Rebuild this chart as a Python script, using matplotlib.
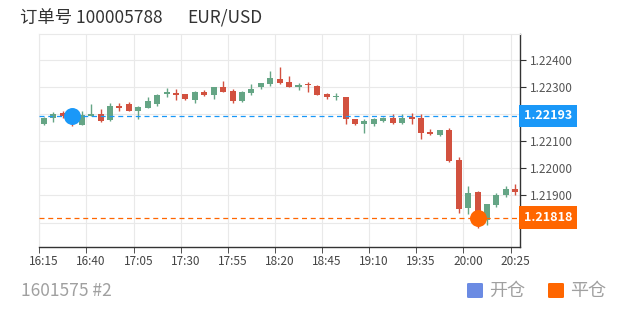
import numpy as np
import matplotlib.pyplot as plt
import matplotlib.transforms as mtransforms
from matplotlib.patches import FancyBboxPatch

plt.rcParams['font.family'] = ['Noto Sans CJK SC', 'DejaVu Sans']

# 5-minute candles, 16:15 .. 20:25
times = ['16:15', '16:40', '17:05', '17:30', '17:55', '18:20', '18:45',
         '19:10', '19:35', '20:00', '20:25']
opens = [1.22164, 1.22187, 1.22203, 1.22195, 1.22161, 1.22193, 1.22199, 1.22177, 1.22230, 1.22236,
         1.22211, 1.22224, 1.22236, 1.22273, 1.22279, 1.22273, 1.22252, 1.22282, 1.22269, 1.22300,
         1.22285, 1.22248, 1.22276, 1.22298, 1.22310, 1.22329, 1.22319, 1.22298, 1.22310, 1.22304,
         1.22273, 1.22263, 1.22261, 1.22180, 1.22162, 1.22162, 1.22174, 1.22184, 1.22168, 1.22189,
         1.22187, 1.22135, 1.22122, 1.22141, 1.22030, 1.21853, 1.21911, 1.21810, 1.21866, 1.21903,
         1.21925]
highs = [1.22190, 1.22206, 1.22210, 1.22206, 1.22211, 1.22236, 1.22220, 1.22240, 1.22240, 1.22243,
         1.22230, 1.22262, 1.22273, 1.22295, 1.22294, 1.22275, 1.22284, 1.22288, 1.22299, 1.22320,
         1.22294, 1.22285, 1.22310, 1.22316, 1.22359, 1.22372, 1.22341, 1.22316, 1.22319, 1.22306,
         1.22277, 1.22277, 1.22262, 1.22182, 1.22180, 1.22184, 1.22190, 1.22202, 1.22199, 1.22205,
         1.22199, 1.22146, 1.22143, 1.22147, 1.22040, 1.21936, 1.21915, 1.21869, 1.21909, 1.21933,
         1.21943]
lows = [1.22160, 1.22169, 1.22184, 1.22156, 1.22160, 1.22192, 1.22170, 1.22173, 1.22211, 1.22210,
        1.22180, 1.22221, 1.22230, 1.22263, 1.22252, 1.22253, 1.22242, 1.22267, 1.22254, 1.22283,
        1.22242, 1.22244, 1.22269, 1.22294, 1.22304, 1.22310, 1.22298, 1.22288, 1.22282, 1.22269,
        1.22254, 1.22252, 1.22162, 1.22160, 1.22131, 1.22157, 1.22170, 1.22162, 1.22162, 1.22162,
        1.22109, 1.22123, 1.22119, 1.22022, 1.21835, 1.21832, 1.21779, 1.21792, 1.21859, 1.21894,
        1.21903]
closes = [1.22184, 1.22199, 1.22192, 1.22180, 1.22195, 1.22199, 1.22174, 1.22230, 1.22224, 1.22211,
          1.22226, 1.22248, 1.22269, 1.22283, 1.22269, 1.22254, 1.22282, 1.22270, 1.22298, 1.22283,
          1.22248, 1.22282, 1.22294, 1.22314, 1.22332, 1.22314, 1.22298, 1.22307, 1.22306, 1.22270,
          1.22261, 1.22267, 1.22180, 1.22162, 1.22174, 1.22180, 1.22187, 1.22168, 1.22184, 1.22180,
          1.22131, 1.22125, 1.22141, 1.22026, 1.21850, 1.21909, 1.21798, 1.21868, 1.21903, 1.21924,
          1.21911]

open_idx, open_price = 3, 1.22193
close_idx, close_price = 46, 1.21818

up_col = '#65a585'
down_col = '#d2513f'
blue = '#1a98f8'
orange = '#ff6600'

o = np.array(opens)
h = np.array(highs)
l = np.array(lows)
c = np.array(closes)
x = np.arange(len(o))
cols = np.where(c >= o, up_col, down_col)

fig = plt.figure(figsize=(6.2, 3.1), dpi=100)
ax = fig.add_axes([39.3 / 620, 63 / 310, (520 - 39.3) / 620, 213 / 310])

# grid
for yv in np.arange(1.218, 1.2245, 0.001):
    ax.axhline(yv, color='#e9e9e9', lw=0.8, zorder=0)
for xv in np.arange(-0.5, 51, 5):
    ax.axvline(xv, color='#e9e9e9', lw=0.8, zorder=0)

# candles
ax.vlines(x, l, h, colors=cols, lw=1, zorder=2)
body = np.maximum(np.abs(c - o), 0.000012)
ax.bar(x, body, bottom=np.minimum(o, c), width=0.64, color=cols, zorder=3)

# open / close lines and markers
ax.axhline(open_price, color=blue, lw=0.9, ls=(0, (4, 3)), zorder=4)
ax.axhline(close_price, color=orange, lw=0.9, ls=(0, (4, 3)), zorder=4)
ax.scatter([open_idx], [open_price], s=125, color=blue, zorder=5)
ax.scatter([close_idx], [close_price], s=125, color=orange, zorder=5)

ax.set_xlim(-0.5, 50.5)
ax.set_ylim(1.2171, 1.22495)

# axes styling
for s in ['left', 'top']:
    ax.spines[s].set_color('#e9e9e9')
    ax.spines[s].set_linewidth(0.8)
for s in ['right', 'bottom']:
    ax.spines[s].set_color('#333333')
    ax.spines[s].set_linewidth(1)

ax.yaxis.tick_right()
yt = np.round(np.arange(1.218, 1.2245, 0.001), 3)
ax.set_yticks(yt)
ax.set_yticklabels(['' if v in (1.218, 1.222) else '%.5f' % v for v in yt])
ax.tick_params(axis='y', length=4, color='#333333', labelsize=8.5, labelcolor='#555555', pad=3)

ax.set_xticks(x[::5])
ax.set_xticklabels(times)
ax.set_xticks(np.arange(-0.5, 51, 5), minor=True)
ax.tick_params(axis='x', which='major', length=0, labelsize=8.5, labelcolor='#444444', pad=6)
ax.tick_params(axis='x', which='minor', length=4, color='#333333')

# price tags on right axis
trans = mtransforms.blended_transform_factory(ax.transAxes, ax.transData)
for price, col in [(open_price, blue), (close_price, orange)]:
    ax.text(1.008, price, '%.5f' % price, transform=trans, ha='left', va='center',
            color='white', fontsize=9, fontweight='bold', clip_on=False, zorder=6,
            bbox=dict(boxstyle='square,pad=0.38', fc=col, ec='none'))

# title and footer
fig.text(20 / 620, 1 - 18 / 310, '订单号 100005788', fontsize=12.5,
         color='#333333', va='center', ha='left')
fig.text(187 / 620, 1 - 18 / 310, 'EUR/USD', fontsize=12.5,
         color='#333333', va='center', ha='left')
fig.text(21 / 620, 1 - 291 / 310, '1601575 #2', fontsize=12.5, color='#a0a0a0',
         va='center', ha='left')

for x0, col, label in [(467, '#6b8be3', '开仓'), (548, orange, '平仓')]:
    fig.patches.append(FancyBboxPatch((x0 / 620, 1 - 298 / 310), 16 / 620, 15 / 310,
                                      boxstyle='round,pad=0,rounding_size=0.003',
                                      transform=fig.transFigure, fc=col, ec='none'))
    fig.text((x0 + 22) / 620, 1 - 291 / 310, label, fontsize=13, color='#a0a0a0',
             va='center', ha='left')

fig.savefig('out.png', dpi=100)
